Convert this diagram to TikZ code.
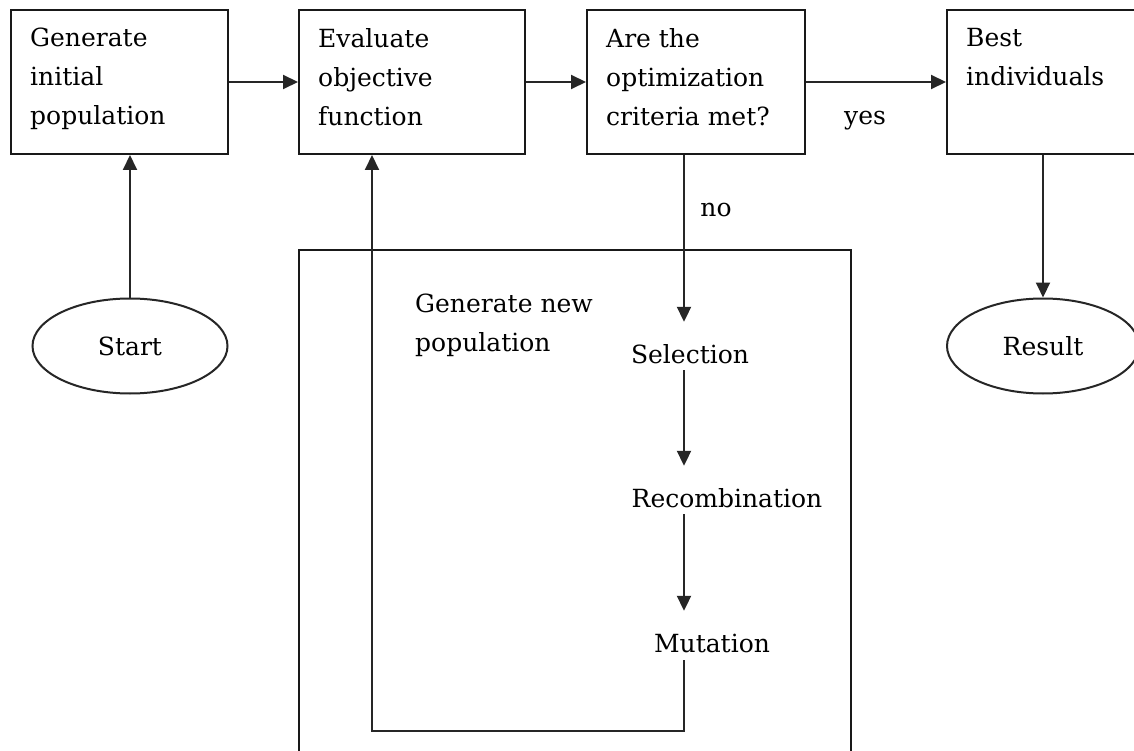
\documentclass[tikz,border=0pt]{standalone}
\usepackage{fontspec}
\setmainfont{DejaVu Serif}
\usetikzlibrary{arrows.meta,shapes.geometric,calc}
\begin{document}
\begin{tikzpicture}[x=1pt,y=-1pt,
  line/.style={draw=black!85, line width=2pt},
  arr/.style={line, -{Triangle[length=15pt,width=14pt]}},
  stage/.style={draw=black!90, line width=2pt, rectangle, inner sep=0pt},
  txt/.style={font=\fontsize{25}{39}\selectfont, align=left, inner sep=0pt, text=black},
  oval/.style={ellipse, draw=black!85, line width=2pt, minimum width=195pt,
               minimum height=95pt, inner sep=0pt, font=\fontsize{25}{39}\selectfont},
  phase/.style={txt, text height=19pt, text depth=0pt}
]
\clip (0,0) rectangle (1134,751);
\fill[white] (0,0) rectangle (1134,751);

% main flow boxes
\node[stage, minimum width=217pt, minimum height=144pt] (gen)  at (119.5,82) {};
\node[stage, minimum width=226pt, minimum height=144pt] (eval) at (412,82) {};
\node[stage, minimum width=218pt, minimum height=144pt] (crit) at (696,82) {};
\node[stage, minimum width=200pt, minimum height=144pt] (best) at (1047,82) {};

\node[txt, anchor=north west] (gent)  at (30,28)  {Generate\\initial\\population};
\node[txt, anchor=north west] (evalt) at (318,28) {Evaluate\\objective\\function};
\node[txt, anchor=north west] (critt) at (606,28) {Are the\\optimization\\criteria met?};
\node[txt, anchor=north west] (bestt) at (966,28) {Best\\individuals};

% terminals
\node[oval] (start)  at (130,346)  {Start};
\node[oval, minimum width=192pt] (result) at (1043,346) {Result};

% new population block
\node[draw=black!90, line width=2pt, rectangle, inner sep=0pt,
      minimum width=552pt, minimum height=520pt] (newpop) at (575,510) {};
\node[txt, anchor=north west] (newpopt) at (415,294) {Generate new\\population};

\coordinate (col) at (684,0);
\coordinate (ret) at (372,731);

\node[phase, anchor=base] (sel) at (690,363) {Selection};
\node[phase, anchor=base] (rec) at (727,507) {Recombination};
\node[phase, anchor=base] (mut) at (712,652) {Mutation};

% labels
\node[txt, anchor=base] (yes) at (865,125) {yes};
\node[txt, anchor=base] (no)  at (716,217) {no};

% connectors
\draw[arr] (start.north) -- (start.north |- gen.south);
\draw[arr] (gen.east) -- (eval.west);
\draw[arr] (eval.east) -- (crit.east -| crit.west);
\draw[arr] (crit.east) -- (best.west);
\draw[arr] (result.north |- best.south) -- (result.north);
\draw[arr, shorten >=22pt] (col |- crit.south) -- (col |- sel.north);
\draw[arr, shorten <=7pt, shorten >=22pt] (col |- sel.south) -- (col |- rec.north);
\draw[arr, shorten <=7pt, shorten >=22pt] (col |- rec.south) -- (col |- mut.north);
\draw[arr, shorten <=8pt] (col |- mut.south) -- (col |- ret) -- (ret) -- (ret |- eval.south);
\end{tikzpicture}
\end{document}
